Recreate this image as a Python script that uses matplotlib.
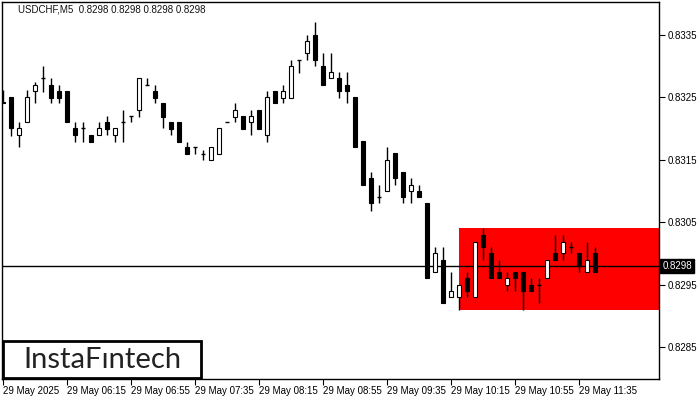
import numpy as np
import matplotlib.pyplot as plt
from matplotlib.patches import Rectangle

# 5-minute USDCHF bars, 29 May 2025 05:35 -> 11:45
opens = [0.83243, 0.83251, 0.83190, 0.83211, 0.83260, 0.83281, 0.83270, 0.83260, 0.83260, 0.83201,
         0.83201, 0.83190, 0.83190, 0.83211, 0.83190, 0.83211, 0.83220, 0.83230, 0.83270, 0.83260,
         0.83241, 0.83211, 0.83211, 0.83171, 0.83171, 0.83159, 0.83150, 0.83159, 0.83211, 0.83219,
         0.83220, 0.83211, 0.83230, 0.83190, 0.83260, 0.83249, 0.83249, 0.83310, 0.83321, 0.83350,
         0.83300, 0.83281, 0.83281, 0.83270, 0.83251, 0.83180, 0.83121, 0.83090, 0.83100, 0.83161,
         0.83130, 0.83100, 0.83100, 0.83081, 0.82970, 0.82990, 0.82930, 0.82930, 0.82961, 0.82930,
         0.83030, 0.83001, 0.82970, 0.82950, 0.82970, 0.82970, 0.82950, 0.82950, 0.82961, 0.83001,
         0.83001, 0.83010, 0.83001, 0.82970, 0.83001]
highs = [0.83262, 0.83251, 0.83211, 0.83262, 0.83275, 0.83300, 0.83281, 0.83270, 0.83260, 0.83211,
         0.83211, 0.83190, 0.83211, 0.83220, 0.83201, 0.83230, 0.83220, 0.83281, 0.83281, 0.83270,
         0.83241, 0.83211, 0.83211, 0.83179, 0.83171, 0.83166, 0.83171, 0.83201, 0.83211, 0.83241,
         0.83220, 0.83230, 0.83230, 0.83260, 0.83260, 0.83270, 0.83310, 0.83310, 0.83350, 0.83371,
         0.83321, 0.83321, 0.83291, 0.83291, 0.83251, 0.83180, 0.83130, 0.83110, 0.83171, 0.83161,
         0.83130, 0.83121, 0.83110, 0.83081, 0.83010, 0.83010, 0.82970, 0.82950, 0.82970, 0.83018,
         0.83041, 0.83010, 0.82990, 0.82970, 0.82970, 0.82970, 0.82961, 0.82961, 0.82990, 0.83030,
         0.83030, 0.83018, 0.83001, 0.83018, 0.83010]
lows = [0.83241, 0.83188, 0.83171, 0.83211, 0.83241, 0.83259, 0.83241, 0.83241, 0.83211, 0.83179,
        0.83179, 0.83179, 0.83190, 0.83190, 0.83179, 0.83179, 0.83211, 0.83219, 0.83270, 0.83241,
        0.83201, 0.83190, 0.83179, 0.83159, 0.83159, 0.83150, 0.83150, 0.83159, 0.83211, 0.83211,
        0.83199, 0.83190, 0.83199, 0.83179, 0.83241, 0.83241, 0.83249, 0.83289, 0.83310, 0.83300,
        0.83270, 0.83281, 0.83249, 0.83241, 0.83171, 0.83110, 0.83068, 0.83081, 0.83100, 0.83110,
        0.83081, 0.83081, 0.83090, 0.82961, 0.82970, 0.82920, 0.82930, 0.82909, 0.82930, 0.82930,
        0.82990, 0.82961, 0.82961, 0.82940, 0.82940, 0.82909, 0.82940, 0.82920, 0.82961, 0.82990,
        0.82990, 0.83001, 0.82970, 0.82970, 0.82970]
closes = [0.83241, 0.83201, 0.83201, 0.83251, 0.83270, 0.83281, 0.83249, 0.83249, 0.83211, 0.83190,
          0.83201, 0.83179, 0.83201, 0.83199, 0.83201, 0.83211, 0.83220, 0.83281, 0.83270, 0.83249,
          0.83219, 0.83199, 0.83179, 0.83159, 0.83171, 0.83159, 0.83171, 0.83201, 0.83211, 0.83230,
          0.83199, 0.83220, 0.83199, 0.83251, 0.83241, 0.83260, 0.83300, 0.83310, 0.83340, 0.83310,
          0.83270, 0.83291, 0.83260, 0.83260, 0.83171, 0.83110, 0.83081, 0.83090, 0.83150, 0.83121,
          0.83090, 0.83110, 0.83090, 0.82961, 0.83001, 0.82920, 0.82940, 0.82950, 0.82940, 0.83018,
          0.83010, 0.82961, 0.82961, 0.82961, 0.82961, 0.82940, 0.82940, 0.82950, 0.82990, 0.82990,
          0.83018, 0.83010, 0.82980, 0.82990, 0.82970]

time_labels = ["29 May 2025", "29 May 06:15", "29 May 06:55", "29 May 07:35", "29 May 08:15",
               "29 May 08:55", "29 May 09:35", "29 May 10:15", "29 May 10:55", "29 May 11:35"]
price_ticks = [0.8285, 0.8295, 0.8305, 0.8315, 0.8325, 0.8335]
last_price = 0.8298
zone_start = 57          # bar where the red zone begins
zone_low, zone_high = 0.8291, 0.8304
title = "USDCHF,M5  0.8298 0.8298 0.8298 0.8298"

plt.rcParams['font.family'] = ['Liberation Sans', 'DejaVu Sans']

fig = plt.figure(figsize=(7, 4), dpi=100)
ax = fig.add_axes([2/700, 21/400, 657/700, 377/400])

x = np.arange(len(opens))
o = np.array(opens); h = np.array(highs); l = np.array(lows); c = np.array(closes)
xmax = 82
ax.set_xlim(-0.125, xmax)
ax.set_ylim(0.827987, 0.834029)

# red zone
ax.add_patch(Rectangle((zone_start, zone_low), xmax - zone_start, zone_high - zone_low,
                       facecolor="#ff0000", edgecolor="none", zorder=1))
# last price line
ax.axhline(last_price, color="black", lw=1, zorder=2)

# wicks
ax.vlines(x, l, h, color="black", lw=1, zorder=3)
# bodies
w = 0.6
up = c > o
down = c < o
flat = c == o
ax.bar(x[down], (o - c)[down], bottom=c[down], width=w, color="black",
       edgecolor="black", lw=0.8, zorder=4)
ax.bar(x[up], (c - o)[up], bottom=o[up], width=w, color="white",
       edgecolor="black", lw=0.8, zorder=4)
ax.hlines(o[flat], x[flat] - w/2, x[flat] + w/2, color="black", lw=1, zorder=4)

# axes styling
for s in ax.spines.values():
    s.set_linewidth(1)
ax.yaxis.tick_right()
ax.set_yticks(price_ticks)
ax.set_yticklabels([f"{p:.4f}" for p in price_ticks], fontsize=7)
ax.tick_params(axis="y", length=4, width=0.8, pad=2)
tick_pos = np.arange(0, 80, 8)
ax.set_xticks(tick_pos)
ax.set_xticklabels(time_labels, fontsize=7, ha="left")
ax.tick_params(axis="x", length=4, width=0.8, pad=1)

# last price tag
ax.text(1.005, last_price, f"{last_price:.4f}", transform=ax.get_yaxis_transform(),
        ha="left", va="center", fontsize=7, color="white",
        bbox=dict(boxstyle="square,pad=0.2", facecolor="black", edgecolor="black"),
        zorder=10, clip_on=False)

# title
ax.text(0.024, 0.993, title, transform=ax.transAxes, ha="left", va="top",
        fontsize=7, color="#111111")

# logo
fig.patches.append(Rectangle((3/700, 22/400), 198/700, 37/400, transform=fig.transFigure,
                             facecolor="white", edgecolor="black", lw=2, zorder=5))
fig.text(102/700, 40/400, "InstaF\u0131ntech", ha="center", va="center",
         fontsize=21, family="Lato", color="#222222", zorder=6)

fig.savefig("out.png", dpi=100)
